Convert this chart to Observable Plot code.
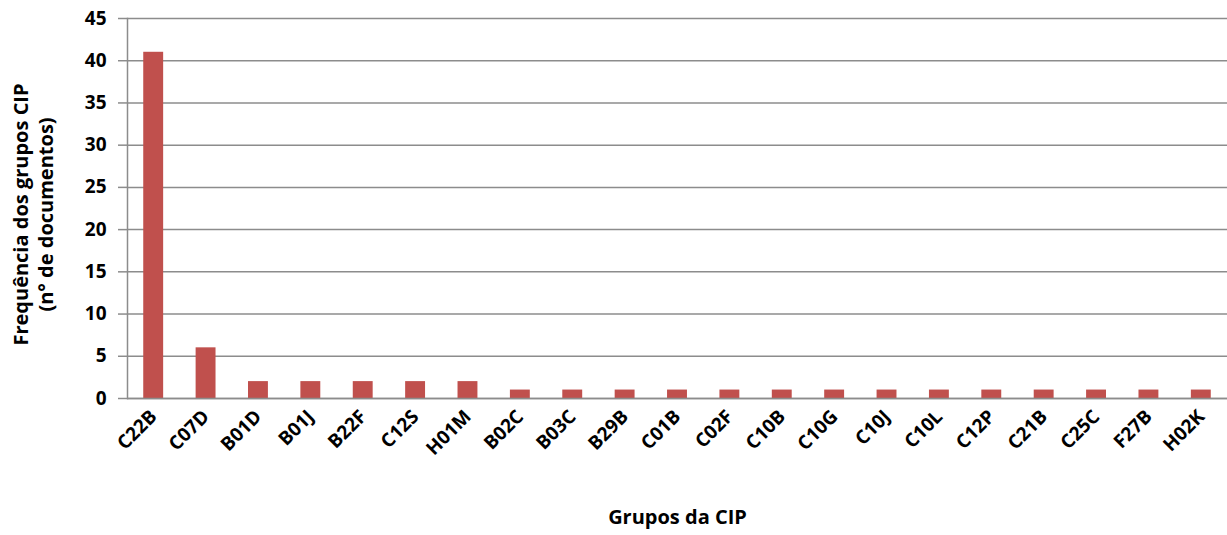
<!DOCTYPE html>
<html>
<head>
<meta charset="utf-8">
<script src="https://cdn.jsdelivr.net/npm/d3@7"></script>
<script src="https://cdn.jsdelivr.net/npm/@observablehq/plot@0.6"></script>
<style>
  html, body { margin: 0; padding: 0; background: #fff; }
  svg { display: block; }
</style>
</head>
<body>
<div id="chart"></div>
<script>
const categories = ["C22B","C07D","B01D","B01J","B22F","C12S","H01M","B02C","B03C","B29B","C01B","C02F","C10B","C10G","C10J","C10L","C12P","C21B","C25C","F27B","H02K"];
const values = [41, 6, 2, 2, 2, 2, 2, 1, 1, 1, 1, 1, 1, 1, 1, 1, 1, 1, 1, 1, 1];
const yTicks = [0, 5, 10, 15, 20, 25, 30, 35, 40, 45];
const yTitle = "Frequência dos grupos CIP\n(n° de documentos)";
const xTitle = "Grupos da CIP";

const data = categories.map((c, i) => ({cat: c, value: values[i]}));
const font = "'Open Sans', Lato, sans-serif";

const chart = Plot.plot({
  width: 1227,
  height: 535,
  marginLeft: 127,
  marginRight: 0,
  marginTop: 18,
  marginBottom: 137,
  style: {fontFamily: font, fontWeight: "bold", color: "#000", background: "#fff"},
  x: {domain: categories, paddingInner: 0.62, paddingOuter: 0.31, round: false, label: null},
  y: {domain: [0, 45], label: null},
  marks: [
    Plot.gridY(yTicks, {stroke: "#8c8c8c", strokeOpacity: 1, strokeWidth: 1.5}),
    Plot.axisY(yTicks, {tickSize: 9, tickPadding: 12, stroke: "#8c8c8c", strokeWidth: 1.5, fontSize: 19, fontWeight: "bold", fill: "#000", label: null}),
    Plot.frame({anchor: "left", stroke: "#8c8c8c", strokeWidth: 1.5}),
    Plot.barY(data, {x: "cat", y: "value", fill: "#C0504D"}),
    Plot.ruleY([0], {stroke: "#8c8c8c", strokeWidth: 1.5}),
    Plot.axisX({tickSize: 0, tickPadding: 15, tickRotate: -45, fontSize: 19, fontWeight: "bold", fill: "#000", label: null}),
    Plot.text([yTitle], {frameAnchor: "left", rotate: -90, textAnchor: "middle", lineAnchor: "middle", dx: -95, dy: 6, fontSize: 20, fontWeight: "bold", fill: "#000", lineHeight: 1.25}),
    Plot.text([xTitle], {frameAnchor: "bottom", dy: 125, fontSize: 20, fontWeight: "bold", fill: "#000"})
  ]
});
document.getElementById("chart").appendChild(chart);
</script>
</body>
</html>
